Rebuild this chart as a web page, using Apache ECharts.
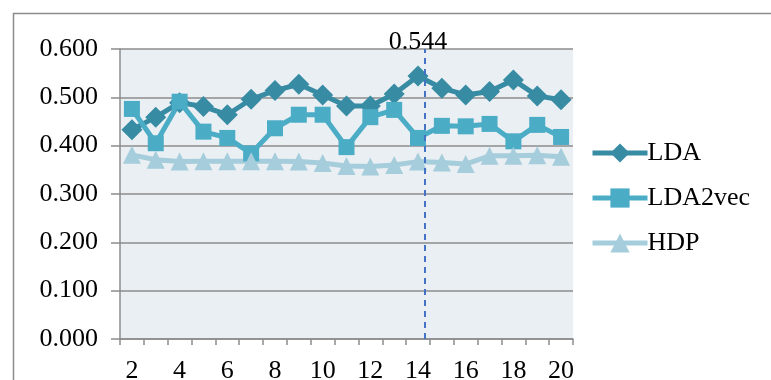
<!DOCTYPE html>
<html>
<head>
<meta charset="utf-8">
<script src="https://cdn.jsdelivr.net/npm/echarts@6/dist/echarts.min.js"></script>
<style>
  html, body { margin: 0; padding: 0; background: #ffffff; }
  #chart { width: 771px; height: 380px; }
</style>
</head>
<body>
<div id="chart"></div>
<script>
// Number of topics on the x axis
const topics = ['2','3','4','5','6','7','8','9','10','11','12','13','14','15','16','17','18','19','20'];

// Coherence scores per model
const lda     = [0.433, 0.459, 0.489, 0.481, 0.464, 0.496, 0.514, 0.527, 0.505, 0.482, 0.482, 0.507, 0.544, 0.519, 0.505, 0.512, 0.536, 0.503, 0.495];
const lda2vec = [0.476, 0.405, 0.491, 0.429, 0.416, 0.384, 0.436, 0.464, 0.464, 0.397, 0.459, 0.474, 0.416, 0.441, 0.440, 0.445, 0.409, 0.443, 0.418];
const hdp     = [0.381, 0.371, 0.367, 0.368, 0.368, 0.368, 0.368, 0.367, 0.364, 0.358, 0.357, 0.360, 0.367, 0.365, 0.362, 0.379, 0.379, 0.380, 0.377];

// Y axis range
const yMin = 0, yMax = 0.6, yStep = 0.1;

// Peak marker: topic count and the dashed guide position
const peakTopic = '14';
const peakGuideX = 14.3;

const serif = '"Liberation Serif", "Times New Roman", serif';
const gridGray = '#8c8c8c';

const chart = echarts.init(document.getElementById('chart'), null, { renderer: 'canvas' });

const peakValue = lda[topics.indexOf(peakTopic)];

function lineSeries(name, data, symbol, size, color) {
  return {
    name, type: 'line', data,
    symbol, symbolSize: size,
    showSymbol: true, showAllSymbol: true,
    lineStyle: { color, width: 5 },
    itemStyle: { color }
  };
}

const ldaSeries = lineSeries('LDA', lda, 'diamond', 21, '#378ba3');
ldaSeries.markPoint = {
  symbol: 'circle', symbolSize: 1,
  itemStyle: { color: 'rgba(0,0,0,0)' },
  label: {
    show: true, position: 'inside', offset: [0, -7],
    fontFamily: serif, fontSize: 26, color: '#000',
    formatter: p => p.value.toFixed(3)
  },
  data: [{ coord: [peakTopic, yMax], value: peakValue }]
};

chart.setOption({
  animation: false,
  backgroundColor: '#ffffff',
  textStyle: { fontFamily: serif },
  graphic: [{
    type: 'rect',
    left: 11, top: 11,
    shape: { width: 800, height: 420 },
    style: { fill: 'none', stroke: '#8c8c8c', lineWidth: 1.5 },
    silent: true
  }],
  grid: {
    left: 120, right: 198, top: 49, bottom: 41,
    containLabel: false, outerBoundsMode: 'none',
    show: true, backgroundColor: '#e9eff3', borderWidth: 0
  },
  legend: {
    orient: 'vertical',
    left: 585, top: 135,
    itemWidth: 55, itemHeight: 24, itemGap: 19,
    lineStyle: { width: 5 },
    textStyle: { fontFamily: serif, fontSize: 26, color: '#000', padding: [0, 0, 0, -5] },
    data: ['LDA', 'LDA2vec', 'HDP']
  },
  xAxis: [{
    type: 'category',
    data: topics,
    boundaryGap: true,
    axisLine: { lineStyle: { color: gridGray, width: 1.5 } },
    axisTick: { show: true, interval: 0, length: 6, lineStyle: { color: gridGray, width: 1.5 } },
    axisLabel: { interval: 1, margin: 19, fontFamily: serif, fontSize: 26, color: '#000' },
    splitLine: { show: false }
  }, {
    type: 'value',
    min: 1.5, max: 20.5,
    show: false
  }],
  yAxis: {
    type: 'value',
    min: yMin, max: yMax, interval: yStep,
    axisLine: { show: true, lineStyle: { color: gridGray, width: 1.5 } },
    axisTick: { show: true, length: 9, lineStyle: { color: gridGray, width: 1.5 } },
    axisLabel: {
      margin: 22, fontFamily: serif, fontSize: 26, color: '#000',
      formatter: v => v.toFixed(3)
    },
    splitLine: { show: true, lineStyle: { color: gridGray, width: 1.5 } }
  },
  series: [
    ldaSeries,
    lineSeries('LDA2vec', lda2vec, 'rect', 16, '#4bacc6'),
    lineSeries('HDP', hdp, 'triangle', 18, '#a6cddb'),
    {
      name: 'peak', type: 'line', xAxisIndex: 1, data: [],
      markLine: {
        silent: true, symbol: 'none',
        label: { show: false },
        lineStyle: { color: '#4472c4', type: [6, 5], width: 2 },
        data: [{ xAxis: peakGuideX }]
      }
    }
  ]
});
</script>
</body>
</html>
